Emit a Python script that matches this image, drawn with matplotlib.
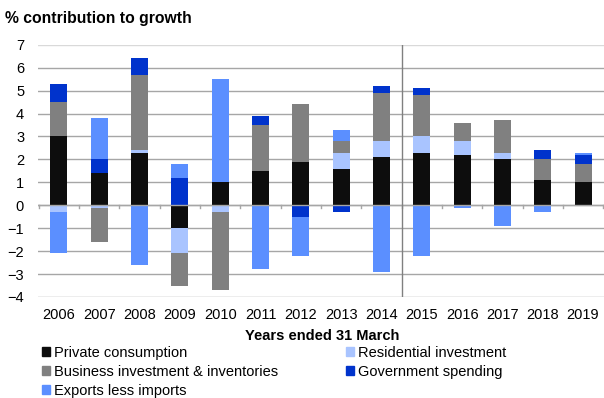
import numpy as np
import matplotlib.pyplot as plt
from matplotlib.patches import Patch

plt.rcParams['font.family'] = ['Liberation Sans', 'DejaVu Sans']

years = ['2006', '2007', '2008', '2009', '2010', '2011', '2012',
         '2013', '2014', '2015', '2016', '2017', '2018', '2019']

# contribution to growth, percentage points
private = [3.0, 1.4, 2.3, -1.0, 1.0, 1.5, 1.9, 1.6, 2.1, 2.3, 2.2, 2.0, 1.1, 1.0]
residential = [-0.3, -0.1, 0.1, -1.1, -0.3, 0.0, 0.0, 0.7, 0.7, 0.7, 0.6, 0.3, 0.0, -0.05]
business = [1.5, -1.5, 3.3, -1.4, -3.4, 2.0, 2.5, 0.5, 2.1, 1.8, 0.8, 1.4, 0.9, 0.8]
government = [0.8, 0.6, 0.7, 1.2, 0.0, 0.4, -0.5, -0.3, 0.3, 0.3, 0.0, 0.0, 0.4, 0.4]
exports = [-1.8, 1.8, -2.6, 0.6, 4.5, -2.8, -1.7, 0.5, -2.9, -2.2, -0.1, -0.9, -0.3, 0.1]

series = [
    ('Private consumption', private, '#0d0d0d'),
    ('Residential investment', residential, '#a9c4ff'),
    ('Business investment & inventories', business, '#808080'),
    ('Government spending', government, '#0033cc'),
    ('Exports less imports', exports, '#5b8fff'),
]

fig = plt.figure(figsize=(6.04, 3.98), dpi=100)
ax = fig.add_axes([38 / 604, 1 - 297 / 398, 566 / 604, 252.3 / 398])

x = np.arange(len(years))
pos_base = np.zeros(len(years))
neg_base = np.zeros(len(years))
for name, vals, col in series:
    v = np.array(vals)
    base = np.where(v >= 0, pos_base, neg_base)
    ax.bar(x, v, 0.42, bottom=base, color=col, zorder=3)
    pos_base += np.clip(v, 0, None)
    neg_base += np.clip(v, None, 0)

ax.set_xlim(-0.52, 13.52)
ax.set_ylim(-4, 7)
ax.set_yticks(range(-4, 8))
ax.set_xticks(x)
ax.set_xticklabels(years)
for y in range(-4, 8):
    ax.axhline(y, color='#d9d9d9' if y == 7 else '#a6a6a6', lw=1, zorder=1)
ax.axhline(0, color='#a6a6a6', lw=1, zorder=4)
for xt in np.arange(-0.5, 14, 1):
    ax.plot([xt, xt], [0, -0.1], color='#a6a6a6', lw=1, zorder=4)
ax.axvline(8.5, color='#808080', lw=1, zorder=4)

for s in ax.spines.values():
    s.set_visible(False)
ax.tick_params(length=0, labelsize=10.5, colors='black')
ax.tick_params(axis='y', pad=10)
ax.tick_params(axis='x', pad=8)

fig.text(5 / 604, 1 - 18 / 398, '% contribution to growth', fontsize=11.3,
         fontweight='bold', va='center', ha='left')
fig.text(322 / 604, 1 - 336 / 398, 'Years ended 31 March', fontsize=10.5,
         fontweight='bold', va='center', ha='center')

handles = [Patch(color=c, label=n) for n, v, c in series]
order = [0, 2, 4, 1, 3]
leg = fig.legend([handles[i] for i in order], [series[i][0] for i in order],
                 ncol=2, loc='upper left', bbox_to_anchor=(42 / 604, 1 - 346 / 398),
                 frameon=False, fontsize=10.5, handlelength=0.55, handleheight=0.55,
                 handletextpad=0.3, labelspacing=0.33, columnspacing=4.6,
                 borderaxespad=0, borderpad=0)

fig.savefig('out.png', dpi=100)
